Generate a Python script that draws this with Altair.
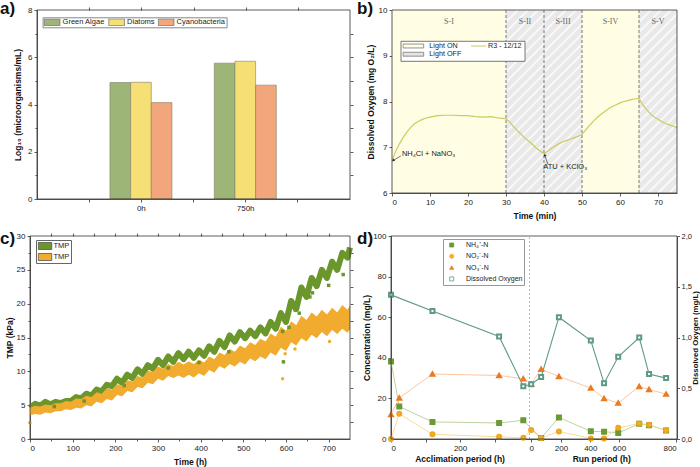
import altair as alt
import pandas as pd

FONT = "Liberation Sans"

# ---------------- panel a) ----------------
a_groups = ["Green Algae", "Diatoms", "Cyanobacteria"]
a_times = ["0h", "750h"]
a_vals_0h = [4.93, 4.94, 4.08]
a_vals_750h = [5.75, 5.83, 4.82]
a_slots = ["s0", "0h", "s1", "750h", "s2"]
a_colors = ["#9DB576", "#F6DF74", "#F3A67B"]

# ---------------- panel b) ----------------
b_t = [0, 1, 2, 3, 4, 5, 6, 7, 8, 9, 10, 12, 14, 16, 18, 20, 22, 24, 26, 28, 30,
       31, 32, 33, 34, 35, 36, 37, 38, 39, 40, 41, 42, 43, 44, 45, 46, 47, 48, 49, 50,
       51, 52, 53, 54, 55, 56, 57, 58, 59, 60, 61, 62, 63, 64, 65,
       66, 67, 68, 69, 70, 71, 72, 73, 74, 75]
b_do = [6.70, 6.92, 7.08, 7.22, 7.34, 7.44, 7.52, 7.57, 7.61, 7.64, 7.66,
        7.69, 7.70, 7.70, 7.69, 7.69, 7.67, 7.66, 7.67, 7.64, 7.62,
        7.55, 7.45, 7.36, 7.28, 7.20, 7.13, 7.06, 6.98, 6.92, 6.86,
        6.92, 6.98, 7.03, 7.08, 7.12, 7.15, 7.18, 7.21, 7.24, 7.28,
        7.38, 7.48, 7.57, 7.65, 7.72, 7.78, 7.84, 7.89, 7.93, 7.97,
        8.00, 8.02, 8.04, 8.06, 8.07,
        7.93, 7.82, 7.73, 7.66, 7.61, 7.56, 7.52, 7.49, 7.46, 7.43]
b_seg_start = [0, 30, 40, 50, 65]
b_seg_end = [30, 40, 50, 65, 75]
b_seg_label = ["S-I", "S-II", "S-III", "S-IV", "S-V"]
b_seg_light = ["Light ON", "Light OFF", "Light OFF", "Light ON", "Light OFF"]
b_ann_text = ["NH₄Cl + NaNO₃", "ATU + KClO₃"]
b_ann_x = [2.6, 39.8]
b_ann_y = [6.86, 6.57]
b_arrow_x = [2.3, 41.0]
b_arrow_y = [6.81, 6.63]
b_arrow_x2 = [0.3, 40.2]
b_arrow_y2 = [6.71, 6.83]
b_arrow_angle = [236, 342]

# ---------------- panel c) ----------------
c_t = [0, 12, 24, 36, 48, 60, 72, 84, 96, 108, 120, 132, 144, 156, 168, 180, 192, 204,
       216, 228, 240, 252, 264, 276, 288, 300, 312, 324, 336, 348, 360, 372, 384, 396,
       408, 420, 432, 444, 456, 468, 480, 492, 504, 516, 528, 540, 552, 564, 576, 588,
       600, 612, 624, 636, 648, 660, 672, 684, 696, 708, 720, 732, 744, 750]
c_tmp_i = [4.6, 5.2, 4.9, 5.5, 5.1, 5.5, 5.3, 5.6, 5.6, 6.2, 6.0, 6.7, 6.4, 7.3, 7.0, 8.0,
           7.8, 8.9, 8.3, 9.5, 9.0, 10.3, 9.6, 10.9, 10.4, 11.7, 10.9, 12.2, 11.4, 12.7,
           11.8, 12.9, 12.0, 13.1, 12.3, 13.7, 12.9, 14.5, 13.6, 15.3, 14.4, 15.8, 14.9,
           16.0, 15.2, 16.5, 15.6, 17.3, 16.3, 18.6, 17.3, 20.4, 19.2, 22.4, 21.0, 23.8,
           22.6, 25.0, 23.8, 26.2, 25.0, 27.5, 26.8, 28.3]
c_tmp_f_lo = [3.5, 3.7, 3.6, 3.9, 3.8, 4.1, 4.1, 4.4, 4.3, 4.6, 4.5, 5.0, 4.8, 5.5, 5.3, 5.9,
              5.7, 6.5, 6.3, 7.1, 6.9, 7.7, 7.5, 8.3, 8.1, 8.9, 8.6, 9.3, 9.0, 9.4, 9.0, 9.5,
              9.1, 9.7, 9.3, 10.2, 9.8, 10.8, 10.4, 11.1, 10.7, 11.4, 11.0, 11.9, 11.5, 12.2,
              11.8, 12.8, 12.3, 13.5, 13.0, 14.3, 13.8, 14.9, 14.4, 15.4, 14.9, 15.8, 15.2,
              16.1, 15.5, 16.3, 15.7, 16.2]
c_tmp_f_hi = [4.6, 4.9, 4.8, 5.1, 5.0, 5.3, 5.3, 5.6, 5.5, 6.0, 5.9, 6.4, 6.2, 6.9, 6.7, 7.5,
              7.3, 8.1, 7.9, 8.7, 8.5, 9.3, 9.1, 10.1, 9.9, 10.7, 10.4, 11.1, 10.8, 11.4, 11.0,
              11.5, 11.1, 11.7, 11.3, 12.2, 11.8, 12.8, 12.4, 13.3, 12.9, 13.8, 13.4, 14.3,
              13.9, 14.8, 14.4, 15.6, 15.1, 16.6, 16.0, 17.4, 16.8, 18.2, 17.6, 18.7, 18.1,
              19.1, 18.4, 19.4, 18.7, 19.8, 19.1, 19.8]
c_out_i_t = [57, 127, 221, 324, 396, 466, 592, 594, 607, 621, 631, 656, 662, 700, 734]
c_out_i_v = [4.8, 5.6, 7.9, 10.5, 11.3, 12.9, 15.9, 11.4, 16.5, 19.1, 18.6, 21.0, 21.6, 22.7, 24.3]
c_out_f_t = [0, 592, 598, 621, 702]
c_out_f_v = [2.4, 8.9, 12.6, 13.3, 14.4]
c_series = ["TMPi", "TMPf"]
c_colors = ["#6A962C", "#F1AB2E"]

# ---------------- panel d) ----------------
d_acc_h = [0, 24, 120, 313, 383]
d_run_h = [0, 55, 153, 329, 402, 480, 596, 650, 744]
d_nh4_acc = [38.2, 16.0, 8.4, 7.9, 9.2]
d_nh4_run = [None, 0.5, 10.6, 3.8, 3.6, 3.0, 7.5, 6.8, 4.2]
d_no2_acc = [0.0, 12.4, 2.3, 1.1, 0.6]
d_no2_run = [4.4, 0.5, 3.7, 0.3, 0.2, 5.5, 7.6, 7.0, 4.3]
d_no3_acc = [12.0, 20.2, 32.0, 31.3, 29.7]
d_no3_run = [27.0, 34.4, 30.8, 25.1, 20.0, 17.7, 25.9, 24.4, 22.1]
d_do_acc_h = [0, 120, 313, 383]
d_do_acc = [1.42, 1.26, 1.01, 0.52]
d_do_run = [0.54, 0.61, 1.20, 0.97, 0.55, 0.81, 1.00, 0.64, 0.60]
d_series = ["NH₄⁺-N", "NO₂⁻-N", "NO₃⁻-N", "Dissolved Oxygen"]
d_tick_pos = [0, 100, 200, 300, 406, 492, 577, 660, 826]
d_tick_lab = ["0", "", "200", "", "0", "200", "400", "600", "800"]
d_xtitles = ["Acclimation period (h)", "Run period (h)"]
d_xtitle_pos = [200, 610]


def lin(dom, rng):
    return alt.Scale(domain=dom, range=rng, nice=False, zero=False)


# ======================= panel a =======================
a_df = pd.DataFrame({
    "time": [t for t in a_times for _ in a_groups],
    "group": a_groups * len(a_times),
    "value": a_vals_0h + a_vals_750h,
})
a_xs = alt.Scale(domain=a_slots, range=[37, 350], paddingInner=0, paddingOuter=0.5)
a_ys = lin([0, 8], [199, 10])
a_bars = alt.Chart(a_df).mark_bar(stroke="#80806a", strokeWidth=0.6).encode(
    x=alt.X("time:N", scale=a_xs,
            axis=alt.Axis(orient="bottom", offset=-268, title=None, labelAngle=0,
                          labelExpr="datum.value == '0h' || datum.value == '750h' ? datum.value : ''")),
    xOffset=alt.XOffset("group:N", scale=alt.Scale(domain=a_groups, range=[-5.3, 56.7],
                                                   paddingInner=0, paddingOuter=0)),
    y=alt.Y("value:Q", scale=a_ys,
            axis=alt.Axis(orient="left", offset=-37, values=[0, 2, 4, 6, 8],
                          title="Log₁₀ (microorganisms/mL)", titlePadding=5)),
    color=alt.Color("group:N", scale=alt.Scale(domain=a_groups, range=a_colors),
                    legend=alt.Legend(orient="none", legendX=42.6, legendY=17.3, direction="horizontal",
                                      title=None, symbolType="M-1,-0.43H1V0.43H-1Z", symbolSize=246,
                                      symbolStrokeColor="#777", symbolStrokeWidth=0.8, clipHeight=7.4,
                                      labelOffset=2, labelFontSize=7.5, columnPadding=2.5, padding=1,
                                      strokeColor="#888", fillColor="white")),
)

frame_df = pd.DataFrame({"x0": [0.0], "x1": [1.0], "y0": [0.0], "y1": [1.0]})


def frame(xr, yr, top_ticks=None, right_ticks=None):
    if top_ticks:
        xaxis = alt.Axis(orient="top", offset=-yr[1], values=top_ticks, labels=False,
                         domain=False, title=None, tickSize=3)
    else:
        xaxis = None
    if right_ticks:
        yaxis = alt.Axis(orient="right", offset=xr[1] - 700, values=right_ticks, labels=False,
                         domain=False, title=None, tickSize=3)
    else:
        yaxis = None
    return alt.Chart(frame_df).mark_rect(fill="white", fillOpacity=0, stroke="#333",
                                         strokeWidth=0.8).encode(
        x=alt.X("x0:Q", scale=lin([0, 1], xr), axis=xaxis), x2="x1:Q",
        y=alt.Y("y0:Q", scale=lin([0, 1], [yr[0], yr[1]]), axis=yaxis), y2="y1:Q")


def minor(xr, yr, bottom_ticks=None, left_ticks=None):
    if bottom_ticks:
        xaxis = alt.Axis(orient="bottom", offset=yr[0] - 467, values=bottom_ticks, labels=False,
                         domain=False, title=None, tickSize=2)
    else:
        xaxis = None
    if left_ticks:
        yaxis = alt.Axis(orient="left", offset=-xr[0], values=left_ticks, labels=False,
                         domain=False, title=None, tickSize=2)
    else:
        yaxis = None
    return alt.Chart(frame_df).mark_rect(opacity=0).encode(
        x=alt.X("x0:Q", scale=lin([0, 1], xr), axis=xaxis), x2="x1:Q",
        y=alt.Y("y0:Q", scale=lin([0, 1], [yr[0], yr[1]]), axis=yaxis), y2="y1:Q")


a_frame = frame([37, 350], [199, 10], top_ticks=[k / 6 for k in range(1, 6)],
                right_ticks=[k / 8 for k in range(1, 8)])
a_minor = minor([37, 350], [199, 10], left_ticks=[k / 8 for k in (1, 3, 5, 7)])

# ======================= panel b =======================
b_seg = pd.DataFrame({"start": b_seg_start, "end": b_seg_end, "label": b_seg_label,
                      "light": b_seg_light})


def b_xs():
    return lin([0, 75], [392, 677])


def b_ys():
    return lin([6, 10], [193, 10])


def stripes(n, base, light, frac):
    stops = []
    for k in range(n):
        a0 = k / n
        a1 = (k + frac) / n
        a2 = (k + 1) / n
        stops += [{"offset": a0, "color": light}, {"offset": a1, "color": light},
                  {"offset": a1, "color": base}, {"offset": a2, "color": base}]
    return stops


HATCH = {"gradient": "linear", "x1": 0, "y1": 0, "x2": 0.2404, "y2": 1.158,
         "stops": stripes(22, "#E9E9E9", "#F7F7F7", 0.3)}

b_regions = alt.Chart(b_seg).mark_rect().encode(
    x=alt.X("start:Q", scale=b_xs(),
            axis=alt.Axis(orient="bottom", offset=-274, values=list(range(0, 80, 10)),
                          title="Time (min)", titlePadding=5)),
    x2="end:Q",
    y=alt.YDatum(6, scale=b_ys(),
                 axis=alt.Axis(orient="left", offset=-392, values=[6, 7, 8, 9, 10],
                               title="Dissolved Oxygen (mg O₂/L)", titlePadding=3)),
    y2=alt.Y2Datum(10),
    fill=alt.Fill("light:N", scale=alt.Scale(domain=["Light ON", "Light OFF"],
                                             range=["#FFFDE4", "#E4E4E4"]),
                  legend=alt.Legend(orient="none", legendX=402.35, legendY=42, title=None,
                                    symbolType="M-1,-0.19H1V0.19H-1Z", symbolSize=428,
                                    symbolStrokeColor="#777", symbolStrokeWidth=0.8,
                                    clipHeight=8, rowPadding=0.2, labelOffset=5,
                                    labelFontSize=7.2, padding=0)),
)
b_hatch = alt.Chart(b_seg).transform_filter("datum.light == 'Light OFF'").mark_rect(
    fill=HATCH).encode(
    x=alt.X("start:Q", scale=b_xs(), axis=None), x2="end:Q",
    y=alt.YDatum(6, scale=b_ys(), axis=None), y2=alt.Y2Datum(10))
b_div = alt.Chart(b_seg).transform_filter("datum.start > 0").mark_rule(
    color="#555", strokeDash=[3, 2], strokeWidth=0.8).encode(
    x=alt.X("start:Q", scale=b_xs(), axis=None),
    y=alt.YDatum(6, scale=b_ys(), axis=None), y2=alt.Y2Datum(10))
b_lab = alt.Chart(b_seg).transform_calculate(mid="(datum.start + datum.end) / 2").mark_text(
    font="Liberation Serif", fontSize=8, color="#666").encode(
    x=alt.X("mid:Q", scale=b_xs(), axis=None),
    y=alt.YDatum(9.74, scale=b_ys(), axis=None), text="label:N")
b_box = alt.Chart(frame_df).mark_rect(fill="white", stroke="#555", strokeWidth=0.8).encode(
    x=alt.value(401), x2=alt.value(525), y=alt.value(41.3), y2=alt.value(61.3))
b_line_df = pd.DataFrame({"t": b_t, "do": b_do, "series": "R3 - 12/12"})
b_line = alt.Chart(b_line_df).mark_line(strokeWidth=1.2).encode(
    x=alt.X("t:Q", scale=b_xs(), axis=None),
    y=alt.Y("do:Q", scale=b_ys(), axis=None),
    stroke=alt.Stroke("series:N", scale=alt.Scale(domain=["R3 - 12/12"], range=["#CDCB5E"]),
                      legend=alt.Legend(orient="none", legendX=470, legendY=42, title=None,
                                        symbolType="stroke", symbolSize=225, symbolStrokeWidth=1.2,
                                        clipHeight=8, labelOffset=1, labelFontSize=7.2, padding=0)),
)
b_ann = pd.DataFrame({"text": b_ann_text, "x": b_ann_x, "y": b_ann_y, "ax": b_arrow_x,
                      "ay": b_arrow_y, "ax2": b_arrow_x2, "ay2": b_arrow_y2, "ang": b_arrow_angle})
b_ann_text_l = alt.Chart(b_ann).mark_text(align="left", fontSize=7.5, color="#222", font=FONT).encode(
    x=alt.X("x:Q", scale=b_xs(), axis=None), y=alt.Y("y:Q", scale=b_ys(), axis=None), text="text:N")
b_arrow = alt.Chart(b_ann).mark_rule(color="#333", strokeWidth=0.7).encode(
    x=alt.X("ax:Q", scale=b_xs(), axis=None), y=alt.Y("ay:Q", scale=b_ys(), axis=None),
    x2="ax2:Q", y2="ay2:Q")
b_head = alt.Chart(b_ann).mark_point(shape="triangle-up", filled=True, color="#333", size=10,
                                     opacity=1).encode(
    x=alt.X("ax2:Q", scale=b_xs(), axis=None), y=alt.Y("ay2:Q", scale=b_ys(), axis=None),
    angle=alt.Angle("ang:Q", scale=None))
b_frame = frame([392, 677], [193, 10])

# ======================= panel c =======================


def c_xs():
    return lin([0, 750], [30, 350])


def c_ys():
    return lin([0, 30], [439, 236])


c_i_df = pd.DataFrame({"t": c_t, "v": c_tmp_i})
c_f_df = pd.DataFrame({"t": c_t, "lo": c_tmp_f_lo, "hi": c_tmp_f_hi})
c_green = alt.Chart(c_i_df).mark_line(strokeWidth=6, color=c_colors[0], strokeJoin="round").encode(
    x=alt.X("t:Q", scale=c_xs(),
            axis=alt.Axis(orient="bottom", offset=-28, values=list(range(0, 800, 100)),
                          title="Time (h)", titlePadding=5)),
    y=alt.Y("v:Q", scale=c_ys(),
            axis=alt.Axis(orient="left", offset=-30, values=list(range(0, 35, 5)),
                          title="TMP (kPa)", titlePadding=2)))
c_orange = alt.Chart(c_f_df).mark_area(color=c_colors[1], opacity=1).encode(
    x=alt.X("t:Q", scale=c_xs(), axis=None), y=alt.Y("lo:Q", scale=c_ys(), axis=None), y2="hi:Q")
c_oi = alt.Chart(pd.DataFrame({"t": c_out_i_t, "v": c_out_i_v})).mark_square(
    size=12, color=c_colors[0], opacity=1).encode(
    x=alt.X("t:Q", scale=c_xs(), axis=None), y=alt.Y("v:Q", scale=c_ys(), axis=None))
c_of = alt.Chart(pd.DataFrame({"t": c_out_f_t, "v": c_out_f_v})).mark_circle(
    size=12, color=c_colors[1], opacity=1).encode(
    x=alt.X("t:Q", scale=c_xs(), axis=None), y=alt.Y("v:Q", scale=c_ys(), axis=None))
c_leg = alt.Chart(pd.DataFrame({"s": c_series})).mark_rect().encode(
    x=alt.XDatum(0, scale=c_xs(), axis=None), x2=alt.X2Datum(0),
    y=alt.YDatum(0, scale=c_ys(), axis=None), y2=alt.Y2Datum(0),
    fill=alt.Fill("s:N", scale=alt.Scale(domain=c_series, range=c_colors),
                  legend=alt.Legend(orient="none", legendX=36, legendY=240, title=None,
                                    symbolType="M-1,-0.52H1V0.52H-1Z", symbolSize=182,
                                    symbolStrokeColor="#555", symbolStrokeWidth=0.8,
                                    clipHeight=9, rowPadding=2, labelOffset=1, labelFontSize=7.5,
                                    padding=1.5, strokeColor="#666", fillColor="white",
                                    labelExpr="'TMP'")))
c_frame = frame([30, 350], [439, 236], top_ticks=[k * 50 / 750 for k in range(1, 15)],
                right_ticks=[k * 2.5 / 30 for k in range(1, 12)])
c_minor = minor([30, 350], [439, 236], bottom_ticks=[k * 50 / 750 for k in (1, 3, 5, 7, 9, 11, 13)],
                left_ticks=[k * 2.5 / 30 for k in (1, 3, 5, 7, 9, 11)])

# ======================= panel d =======================
rows = []
for name, acc, run in [(d_series[0], d_nh4_acc, d_nh4_run), (d_series[1], d_no2_acc, d_no2_run),
                       (d_series[2], d_no3_acc, d_no3_run)]:
    for h, v in zip(d_acc_h, acc):
        rows.append({"series": name, "period": "acc", "h": h, "v": v})
    for h, v in zip(d_run_h, run):
        if v is not None:
            rows.append({"series": name, "period": "run", "h": h, "v": v})
d_conc = pd.DataFrame(rows)
rows = []
for h, v in zip(d_do_acc_h, d_do_acc):
    rows.append({"series": d_series[3], "period": "acc", "h": h, "v": v})
for h, v in zip(d_run_h, d_do_run):
    rows.append({"series": d_series[3], "period": "run", "h": h, "v": v})
d_do = pd.DataFrame(rows)
d_all = pd.concat([d_conc, d_do], ignore_index=True)
U = "datum.period == 'acc' ? datum.h : 405.8 + 0.525 * datum.h"
# DO (right axis 0-2) drawn on the left axis (0-100): factor 50 between the two axes
YP = "datum.series == 'Dissolved Oxygen' ? datum.v * 50 : datum.v"


def d_xs():
    return lin([0, 828], [391, 677])


def d_ys():
    return lin([0, 100], [439, 236])


def d_ys2():
    return lin([0, 2], [439, 236])


lab_expr = " : ".join(f"datum.value == {p} ? '{l}'" for p, l in zip(d_tick_pos, d_tick_lab)) + " : ''"
d_leg = alt.Legend(orient="none", legendX=443, legendY=239, title=None, symbolSize=16,
                   symbolStrokeWidth=0.8, clipHeight=9, rowPadding=2.3, symbolOffset=3.7,
                   labelOffset=10.8, labelFontSize=7, padding=1.5, strokeColor="#999",
                   fillColor="white")
d_fill = alt.Fill("series:N", scale=alt.Scale(domain=d_series,
                                               range=["#6B9A35", "#F5B324", "#F0822A", "white"]),
                  legend=d_leg)
d_stroke = alt.Stroke("series:N", scale=alt.Scale(domain=d_series,
                                                   range=["#6B9A35", "#EFA51E", "#EC7A22", "#5F9A85"]),
                      legend=d_leg)
d_shape = alt.Shape("series:N", scale=alt.Scale(domain=d_series,
                                                 range=["square", "circle", "triangle-up", "square"]),
                    legend=d_leg)

d_dash = alt.Chart(frame_df).mark_rule(color="#BBBBBB", strokeDash=[2, 2], strokeWidth=1).encode(
    x=alt.XDatum(401, scale=d_xs(), axis=None),
    y=alt.YDatum(0, scale=d_ys(), axis=None), y2=alt.Y2Datum(100))
d_lines = alt.Chart(d_conc).transform_calculate(u=U).mark_line(strokeWidth=0.9).encode(
    x=alt.X("u:Q", scale=d_xs(),
            axis=alt.Axis(orient="bottom", offset=-28, values=d_tick_pos, labelExpr=lab_expr,
                          labelOverlap=False, title=None)),
    y=alt.Y("v:Q", scale=d_ys(),
            axis=alt.Axis(orient="left", offset=-391, values=[0, 20, 40, 60, 80, 100],
                          title="Concentration (mg/L)", titlePadding=1)),
    color=alt.Color("series:N", scale=alt.Scale(domain=d_series[:3],
                                                range=["#B8CC98", "#F8D88E", "#F9C09A"]),
                    legend=None))
d_do_line = alt.Chart(d_do).transform_calculate(u=U).mark_line(color="#5F9A85", strokeWidth=1.1).encode(
    x=alt.X("u:Q", scale=d_xs(), axis=None),
    y=alt.Y("v:Q", scale=d_ys2(),
            axis=alt.Axis(orient="right", offset=-23, values=[0, 0.5, 1, 1.5, 2], format=".1f",
                          labelExpr="replace(datum.label, '.', ',')", labelFontSize=7.5,
                          labelPadding=1.5, tickSize=2.5,
                          title="Dissolved Oxygen (mg/L)", titleAngle=270, titleBaseline="top",
                          titleFontSize=7.8, titlePadding=0.5)))
d_pts = alt.Chart(d_all).transform_calculate(u=U, yp=YP).mark_point(size=16, opacity=1).encode(
    x=alt.X("u:Q", scale=d_xs(), axis=None), y=alt.Y("yp:Q", scale=d_ys(), axis=None),
    fill=d_fill, stroke=d_stroke, shape=d_shape)
d_tt = alt.Chart(pd.DataFrame({"text": d_xtitles, "pos": d_xtitle_pos})).mark_text(
    font=FONT, fontSize=8.5, fontWeight="bold", color="#111").encode(
    x=alt.X("pos:Q", scale=d_xs(), axis=None), y=alt.YDatum(-9.8, scale=d_ys(), axis=None),
    text="text:N")
d_frame = frame([391, 677], [439, 236])

# ======================= decorations =======================
letters = pd.DataFrame({"text": ["a)", "b)", "c)", "d)"], "px": [0, 357, 0, 357],
                        "py": [13.5, 13.5, 244, 243.5]})
letter_l = alt.Chart(letters).mark_text(align="left", baseline="alphabetic", fontSize=17,
                                        fontWeight="bold", color="#111", font=FONT).encode(
    x=alt.X("px:Q", scale=None, axis=None), y=alt.Y("py:Q", scale=None, axis=None), text="text:N")
subs = pd.DataFrame({"text": ["i", "f"], "px": [69.6, 69.6], "py": [250.3, 261.3]})
subs_l = alt.Chart(subs).mark_text(align="left", baseline="alphabetic", fontSize=5.5,
                                   color="#222", font=FONT).encode(
    x=alt.X("px:Q", scale=None, axis=None), y=alt.Y("py:Q", scale=None, axis=None), text="text:N")

chart = alt.layer(
    a_bars, a_frame, a_minor,
    b_regions, b_hatch, b_div, b_lab, b_box, b_line, b_ann_text_l, b_arrow, b_head, b_frame,
    c_green, c_orange, c_oi, c_of, c_leg, c_frame, c_minor,
    d_dash, d_lines, d_do_line, d_pts, d_tt, d_frame,
    letter_l, subs_l
).resolve_scale(
    x="independent", y="independent", color="independent", fill="independent",
    stroke="independent", shape="independent"
).properties(
    width=700, height=467, padding=0, autosize="none"
).configure_view(strokeWidth=0).configure_axis(
    labelFont=FONT, labelFontSize=8, labelColor="#222", titleFont=FONT, titleFontSize=8.5,
    titleFontWeight="bold", titleColor="#111", domainColor="#333", tickColor="#333",
    tickSize=3, labelPadding=2, grid=False, domainWidth=0.8, tickWidth=0.8
).configure_legend(labelFont=FONT, labelColor="#222")

chart.save("out.html", embed_options={"renderer": "svg", "actions": False})
